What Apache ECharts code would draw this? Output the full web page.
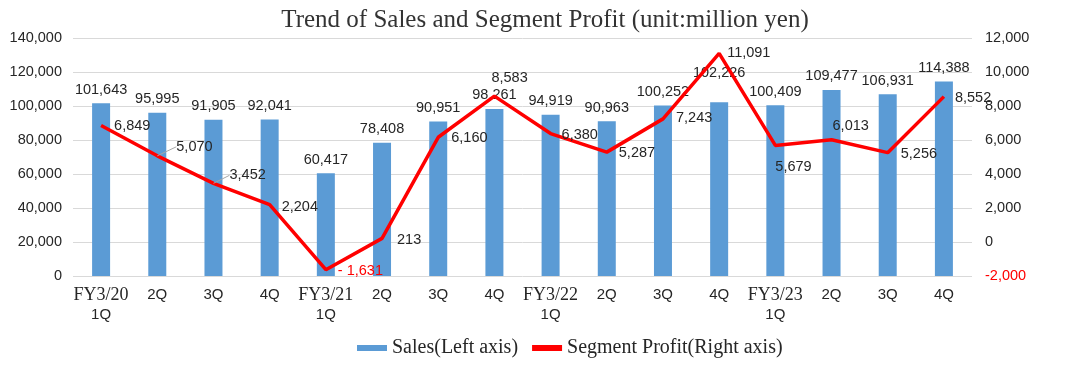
<!DOCTYPE html>
<html><head><meta charset="utf-8">
<script src="https://cdn.jsdelivr.net/npm/echarts@6/dist/echarts.min.js"></script>
<style>html,body{margin:0;padding:0;background:#fff}#c{width:1090px;height:386px}</style>
</head><body><div id="c"></div>
<script>
const fyLabels = ['FY3/20','','','','FY3/21','','','','FY3/22','','','','FY3/23','','',''];
const qLabels = ['1Q','2Q','3Q','4Q','1Q','2Q','3Q','4Q','1Q','2Q','3Q','4Q','1Q','2Q','3Q','4Q'];
const sales = [101643,95995,91905,92041,60417,78408,90951,98261,94919,90963,100252,102226,100409,109477,106931,114388];
const profit = [6849,5070,3452,2204,-1631,213,6160,8583,6380,5287,7243,11091,5679,6013,5256,8552];
const leftTicks = {min:0,max:140000,interval:20000};
const rightTicks = {min:-2000,max:12000,interval:2000};

// label nudges (style only)
const profitLabelShift = [[8,0],[14,-9],[11,-8],[7,2],[7,1],[10,2],[8,1],[-8,-18],[6,1],[7,1],[8,-1],[3,0],[-5,22],[-4,-14],[8,1],[6,1]];
const leaderIdx = [1,2];

const SANS = "'Liberation Sans',Arial,sans-serif";
const SERIF = "'Liberation Serif','Times New Roman',serif";
const FS = 14.5;
const fmt = v => v.toLocaleString('en-US');

const chart = echarts.init(document.getElementById('c'));
chart.setOption({
  animation:false,
  title:{text:'Trend of Sales and Segment Profit (unit:million yen)',left:'center',top:3,
    textStyle:{fontFamily:SERIF,fontSize:25,fontWeight:'normal',color:'#333'}},
  legend:{bottom:23,left:352,itemWidth:30,itemHeight:6,itemGap:14,
    textStyle:{fontFamily:SERIF,fontSize:20,color:'#262626'},
    data:[{name:'Sales(Left axis)',icon:'rect'},{name:'Segment Profit(Right axis)',icon:'rect'}]},
  grid:{left:73,right:118,top:38,bottom:110},
  xAxis:{type:'category',data:qLabels.map((q,i)=>i),
    axisLine:{show:false},axisTick:{show:false},
    axisLabel:{interval:0,margin:9,lineHeight:20,
      formatter:(v,i)=> fyLabels[i] ? '{f|'+fyLabels[i]+'}\n{q|'+qLabels[i]+'}' : '{q|'+qLabels[i]+'}',
      verticalAlign:'top',
      rich:{f:{fontFamily:SERIF,fontSize:18,color:'#262626',lineHeight:20},q:{fontFamily:SANS,fontSize:FS+0.5,color:'#262626',lineHeight:20}}}},
  yAxis:[
    {type:'value',min:leftTicks.min,max:leftTicks.max,interval:leftTicks.interval,
      axisLabel:{formatter:v=>fmt(v),fontFamily:SANS,fontSize:FS,color:'#262626',margin:11},
      splitLine:{lineStyle:{color:'#d9d9d9',width:1}},axisLine:{show:false},axisTick:{show:false}},
    {type:'value',min:rightTicks.min,max:rightTicks.max,interval:rightTicks.interval,position:'right',
      axisLabel:{formatter:v=>fmt(v),fontFamily:SANS,fontSize:FS,margin:13,
        color:v=> v<0 ? '#ff0000' : '#262626'},
      splitLine:{show:false},axisLine:{show:false},axisTick:{show:false}}
  ],
  series:[
    {name:'Sales(Left axis)',type:'bar',yAxisIndex:0,barWidth:18,
      itemStyle:{color:'#5b9bd5'},
      data:sales.map((v,i)=>({value:v,label: i===11 ? {offset:[0,-16]} : undefined})),
      label:{show:true,position:'top',distance:6,formatter:p=>fmt(p.value),
        fontFamily:SANS,fontSize:FS,color:'#262626'}},
    {name:'Segment Profit(Right axis)',type:'line',yAxisIndex:1,symbol:'circle',symbolSize:0.01,showSymbol:true,
      lineStyle:{color:'#ff0000',width:3.5},itemStyle:{color:'#ff0000'},
      data:profit.map((v,i)=>({value:v,
        label: v<0 ? {color:'#ff0000'} : {},
        labelLine: {show: leaderIdx.includes(i)}})),
      label:{show:true,position:'right',distance:5,
        formatter:p=> p.value<0 ? '- '+fmt(-p.value) : fmt(p.value),
        fontFamily:SANS,fontSize:FS,color:'#262626'},
      labelLine:{lineStyle:{color:'#a6a6a6',width:1}},
      labelLayout:p=>({dx:profitLabelShift[p.dataIndex][0],dy:profitLabelShift[p.dataIndex][1]})}
  ]
});
</script></body></html>
